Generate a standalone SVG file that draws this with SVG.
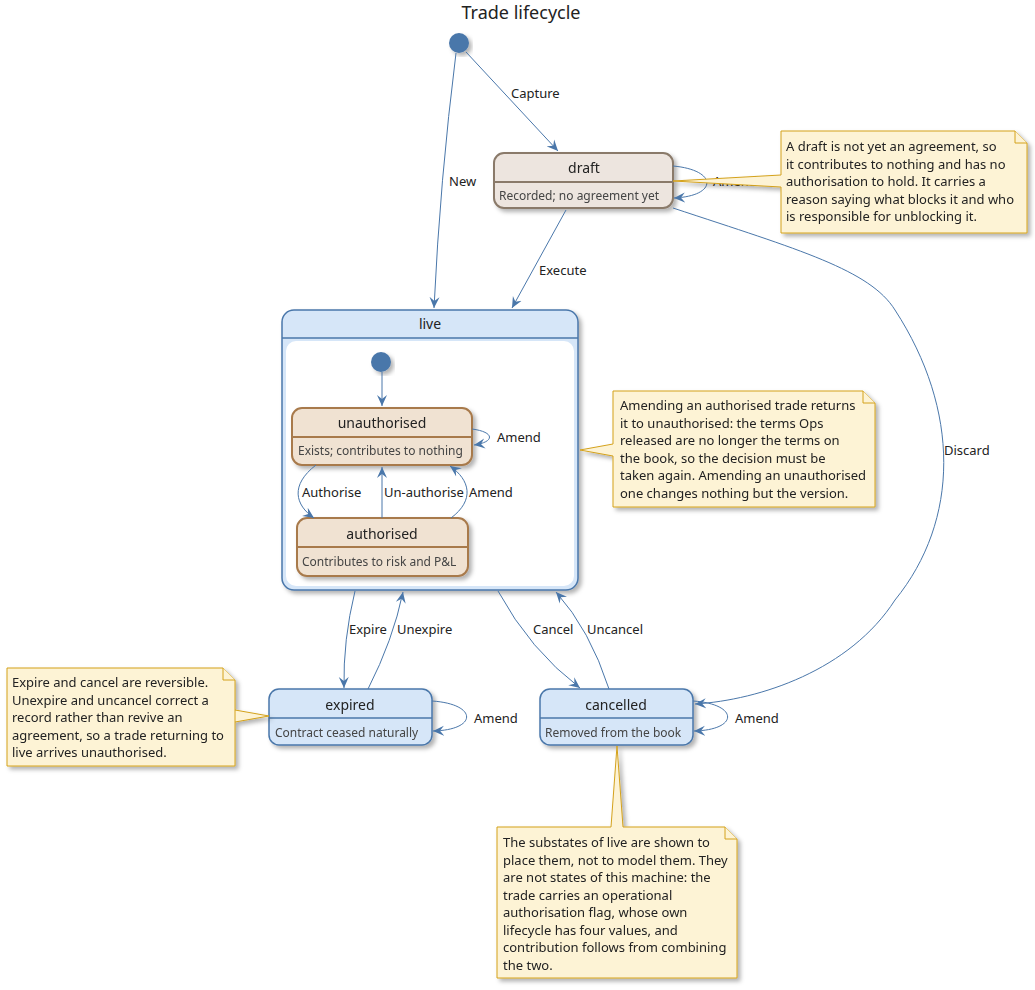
<svg xmlns="http://www.w3.org/2000/svg" width="1035" height="990" viewBox="0 0 1035 990">
<style>
text{font-family:"Noto Sans","DejaVu Sans",sans-serif;fill:#222}
.t{font-size:14px;text-anchor:middle}
.d{font-size:12px;fill:#444}
.l{font-size:13px}
.n{font-size:13px}
.e{fill:none;stroke:#4a77aa;stroke-width:1}
.nt{fill:#fdf3d5;stroke:#d4a21c;stroke-width:1}
.dr{fill:#ede5df;stroke:#8a7a6a;stroke-width:2}
.ua{fill:#f0e2d2;stroke:#a87a4c;stroke-width:2}
.bl{fill:#d6e6f8;stroke:#4a77aa;stroke-width:1.5}
</style>
<defs>
<filter id="sh" x="-10%" y="-10%" width="130%" height="130%"><feDropShadow dx="3" dy="3" stdDeviation="2" flood-color="#000" flood-opacity="0.3"/></filter>
<marker id="a" viewBox="0 0 12 12" refX="11" refY="6" markerWidth="12" markerHeight="12" orient="auto" markerUnits="userSpaceOnUse"><path d="M0,1 L11,6 L0,11 L4,6 Z" fill="#4a77aa"/></marker>
</defs>
<rect width="1035" height="990" fill="#fff"/>
<text x="521" y="19" style="font-size:18px;text-anchor:middle">Trade lifecycle</text>

<g id="init"><circle cx="459" cy="43" r="10" fill="#4a77aa" filter="url(#sh)"/></g>
<g id="draft" filter="url(#sh)"><rect x="494" y="153" width="179" height="55" rx="10" class="dr"/><line x1="494" y1="182" x2="673" y2="182" stroke="#8a7a6a" stroke-width="2"/><text x="584" y="173" class="t">draft</text><text x="499" y="200" class="d">Recorded; no agreement yet</text></g>
<g id="live"><rect x="282" y="310" width="296" height="280" rx="12" class="bl" filter="url(#sh)"/><line x1="282" y1="338" x2="578" y2="338" stroke="#4a77aa" stroke-width="1.5"/><rect x="286" y="341" width="288" height="245" rx="10" fill="#fff"/><text x="430" y="329" class="t">live</text>
<g id="linit"><circle cx="381" cy="362" r="10" fill="#4a77aa" filter="url(#sh)"/></g>
<g id="unauthorised" filter="url(#sh)"><rect x="292" y="408" width="180" height="57" rx="10" class="ua"/><line x1="292" y1="437" x2="472" y2="437" stroke="#a87a4c" stroke-width="2"/><text x="382" y="428" class="t">unauthorised</text><text x="298" y="455" class="d">Exists; contributes to nothing</text></g>
<g id="authorised" filter="url(#sh)"><rect x="297" y="518" width="171" height="58" rx="10" class="ua"/><line x1="297" y1="547" x2="468" y2="547" stroke="#a87a4c" stroke-width="2"/><text x="382" y="539" class="t">authorised</text><text x="302" y="566" class="d">Contributes to risk and P&amp;L</text></g>
</g>
<g id="expired" filter="url(#sh)"><rect x="269" y="689" width="163" height="56" rx="10" class="bl"/><line x1="269" y1="718" x2="432" y2="718" stroke="#4a77aa" stroke-width="1.5"/><text x="350" y="710" class="t">expired</text><text x="275" y="737" class="d">Contract ceased naturally</text></g>
<g id="cancelled" filter="url(#sh)"><rect x="540" y="689" width="153" height="56" rx="10" class="bl"/><line x1="540" y1="718" x2="693" y2="718" stroke="#4a77aa" stroke-width="1.5"/><text x="616" y="710" class="t">cancelled</text><text x="545" y="737" class="d">Removed from the book</text></g>

<g id="connectors">
<path class="e" marker-end="url(#a)" d="M466,52 L558,151"/><text x="511" y="98" class="l">Capture</text>
<path class="e" marker-end="url(#a)" d="M456,53 Q440,180 434,308"/><text x="449" y="186" class="l">New</text>
<path class="e" marker-end="url(#a)" d="M566,210 L512,308"/><text x="539" y="275" class="l">Execute</text>
<path class="e" marker-end="url(#a)" d="M673,166 C718,170 718,196 674,198"/><text x="713" y="186" class="l">Amend</text>
<path class="e" marker-end="url(#a)" d="M673,208 C800,250 870,270 895,310 C960,410 960,520 895,600 C850,670 760,700 695,704"/><text x="944" y="455" class="l">Discard</text>
<path class="e" marker-end="url(#a)" d="M355,591 Q343,640 344,688"/><text x="349" y="634" class="l">Expire</text>
<path class="e" marker-end="url(#a)" d="M368,689 Q393,640 403,592"/><text x="397" y="634" class="l">Unexpire</text>
<path class="e" marker-end="url(#a)" d="M498,591 Q530,650 580,688"/><text x="533" y="634" class="l">Cancel</text>
<path class="e" marker-end="url(#a)" d="M609,689 Q590,630 556,592"/><text x="587" y="634" class="l">Uncancel</text>
<path class="e" marker-end="url(#a)" d="M432,701 C478,704 478,730 433,731"/><text x="474" y="723" class="l">Amend</text>
<path class="e" marker-end="url(#a)" d="M693,701 C739,704 739,730 694,731"/><text x="735" y="723" class="l">Amend</text>
<path class="e" marker-end="url(#a)" d="M382,372 L382,406"/>
<path class="e" marker-end="url(#a)" d="M472,429 C495,432 495,442 474,445"/><text x="497" y="442" class="l">Amend</text>
<path class="e" marker-end="url(#a)" d="M316,465 C290,485 295,505 314,518"/><text x="302" y="497" class="l">Authorise</text>
<path class="e" marker-end="url(#a)" d="M382,518 L382,467"/><text x="384" y="497" class="l">Un-authorise</text>
<path class="e" marker-end="url(#a)" d="M451,518 C475,500 470,480 450,466"/><text x="469" y="497" class="l">Amend</text>
</g>

<g id="note1" filter="url(#sh)"><path class="nt" d="M781,131 H1015 L1027,143 V233 H781 V187 L673,181 L781,175 Z"/><path class="nt" d="M1015,131 V143 H1027"/>
<text class="n"><tspan x="786" y="151">A draft is not yet an agreement, so</tspan><tspan x="786" y="168.5">it contributes to nothing and has no</tspan><tspan x="786" y="186">authorisation to hold. It carries a</tspan><tspan x="786" y="203.5">reason saying what blocks it and who</tspan><tspan x="786" y="221">is responsible for unblocking it.</tspan></text></g>
<g id="note2" filter="url(#sh)"><path class="nt" d="M613,391 H863 L875,403 V507 H613 V456 L580,450 L613,444 Z"/><path class="nt" d="M863,391 V403 H875"/>
<text class="n"><tspan x="620" y="410">Amending an authorised trade returns</tspan><tspan x="620" y="427.5">it to unauthorised: the terms Ops</tspan><tspan x="620" y="445">released are no longer the terms on</tspan><tspan x="620" y="462.5">the book, so the decision must be</tspan><tspan x="620" y="480">taken again. Amending an unauthorised</tspan><tspan x="620" y="497.5">one changes nothing but the version.</tspan></text></g>
<g id="note3" filter="url(#sh)"><path class="nt" d="M7,668 H223 L235,680 V766 H7 Z M235,710 L269,716 L235,722"/><path class="nt" d="M223,668 V680 H235"/>
<text class="n"><tspan x="12" y="687">Expire and cancel are reversible.</tspan><tspan x="12" y="704.5">Unexpire and uncancel correct a</tspan><tspan x="12" y="722">record rather than revive an</tspan><tspan x="12" y="739.5">agreement, so a trade returning to</tspan><tspan x="12" y="757">live arrives unauthorised.</tspan></text></g>
<g id="note4" filter="url(#sh)"><path class="nt" d="M497,827 H611 L617,746 L623,827 H725 L737,839 V978 H497 Z"/><path class="nt" d="M725,827 V839 H737"/>
<text class="n"><tspan x="503" y="847">The substates of live are shown to</tspan><tspan x="503" y="864.5">place them, not to model them. They</tspan><tspan x="503" y="882">are not states of this machine: the</tspan><tspan x="503" y="899.5">trade carries an operational</tspan><tspan x="503" y="917">authorisation flag, whose own</tspan><tspan x="503" y="934.5">lifecycle has four values, and</tspan><tspan x="503" y="952">contribution follows from combining</tspan><tspan x="503" y="969.5">the two.</tspan></text></g>
</svg>
